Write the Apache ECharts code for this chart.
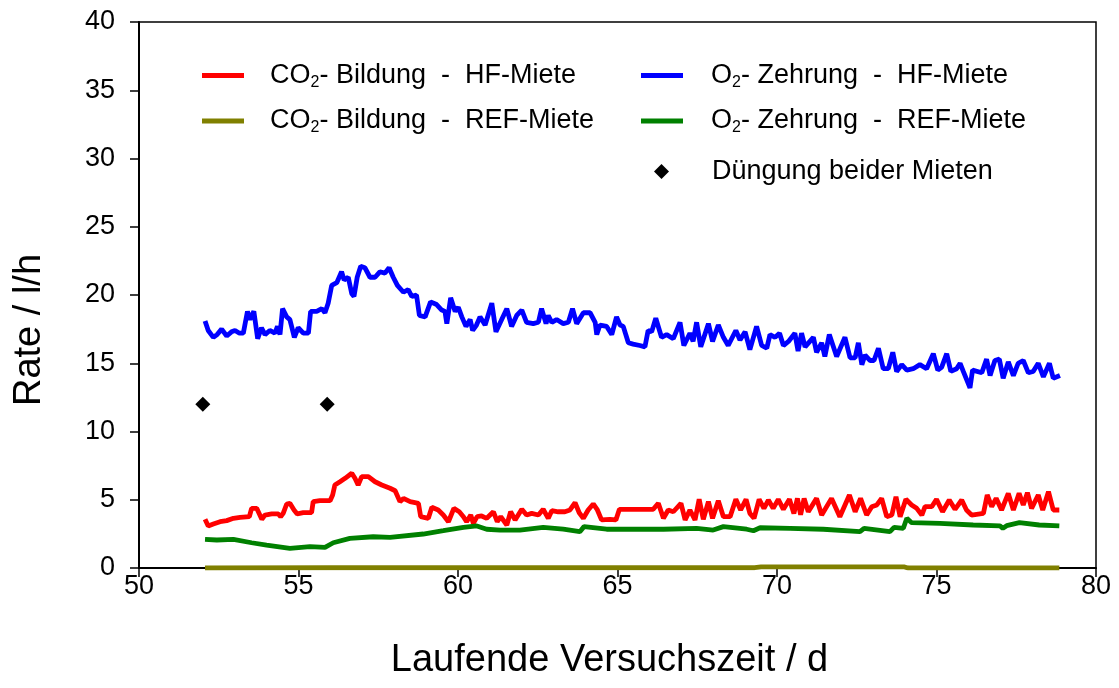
<!DOCTYPE html>
<html>
<head>
<meta charset="utf-8">
<script src="https://cdn.jsdelivr.net/npm/echarts@6/dist/echarts.min.js"></script>
<style>html,body{margin:0;padding:0;background:#fff}#c{width:1119px;height:688px}</style>
</head>
<body>
<div id="c"></div>
<script>
const seriesNames = ['CO2- Bildung  -  HF-Miete','O2- Zehrung  -  HF-Miete','CO2- Bildung  -  REF-Miete','O2- Zehrung  -  REF-Miete','Düngung beider Mieten'];
const xTicks = [50,55,60,65,70,75,80];
const yTicks = [0,5,10,15,20,25,30,35,40];

const co2HF = [[52.07,3.57],[52.17,3.08],[52.33,3.22],[52.54,3.39],[52.75,3.47],[52.96,3.64],[53.17,3.71],[53.46,3.76],[53.53,4.37],[53.69,4.37],[53.85,3.57],[53.95,3.88],[54.16,3.96],[54.37,3.96],[54.44,3.76],[54.52,4.0],[54.63,4.69],[54.73,4.74],[54.86,4.25],[54.96,3.96],[55.15,4.05],[55.41,4.05],[55.46,4.86],[55.67,4.93],[55.99,4.93],[56.07,5.35],[56.14,6.08],[56.3,6.32],[56.46,6.57],[56.67,6.94],[56.77,6.57],[56.87,6.08],[56.98,6.69],[57.19,6.69],[57.4,6.32],[57.61,6.08],[57.87,5.84],[58.03,5.66],[58.18,4.86],[58.29,5.1],[58.5,4.86],[58.76,4.74],[58.83,3.76],[59.07,3.64],[59.18,4.45],[59.38,4.25],[59.54,3.88],[59.7,3.39],[59.87,4.37],[60.04,4.12],[60.17,3.76],[60.27,3.39],[60.4,3.88],[60.48,3.27],[60.6,3.76],[60.74,3.81],[60.9,3.64],[61.11,4.12],[61.23,3.39],[61.34,3.76],[61.53,3.15],[61.65,4.12],[61.79,3.52],[62.0,4.3],[62.15,3.88],[62.31,4.0],[62.52,3.88],[62.67,4.3],[62.83,3.64],[62.94,4.2],[63.14,4.12],[63.35,4.12],[63.51,4.25],[63.67,4.78],[63.8,4.05],[63.93,3.64],[64.08,4.25],[64.24,4.69],[64.37,4.25],[64.5,3.52],[64.76,3.57],[64.95,3.52],[65.06,4.3],[65.6,4.3],[66.12,4.3],[66.28,4.74],[66.44,3.64],[66.59,4.25],[66.75,4.12],[66.99,4.74],[67.12,3.52],[67.27,4.25],[67.43,3.52],[67.56,5.03],[67.69,3.57],[67.85,4.86],[67.98,3.64],[68.16,4.93],[68.32,3.76],[68.53,3.76],[68.71,5.03],[68.86,4.25],[69.03,5.03],[69.15,4.0],[69.28,3.64],[69.44,5.03],[69.59,4.37],[69.73,4.98],[69.88,4.37],[70.04,5.03],[70.2,4.3],[70.39,5.03],[70.53,4.0],[70.64,5.1],[70.74,3.9],[70.85,5.1],[70.98,4.12],[71.24,5.1],[71.4,3.88],[71.71,5.1],[71.97,3.76],[72.27,5.35],[72.45,4.12],[72.62,5.1],[72.81,3.88],[72.97,4.49],[73.13,4.62],[73.28,5.1],[73.44,3.76],[73.6,3.88],[73.73,5.22],[73.86,3.76],[74.04,5.03],[74.22,4.62],[74.38,4.37],[74.54,3.88],[74.64,4.49],[74.85,4.49],[75.0,5.03],[75.19,4.12],[75.4,4.98],[75.58,4.3],[75.79,4.98],[75.94,4.25],[76.1,3.88],[76.47,4.0],[76.59,5.35],[76.73,4.49],[76.87,5.1],[77.04,4.25],[77.25,5.47],[77.41,4.25],[77.59,5.47],[77.72,4.62],[77.85,5.52],[77.98,4.37],[78.19,5.35],[78.33,4.25],[78.51,5.59],[78.66,4.25],[78.85,4.25]];

const o2HF = [[52.07,18.1],[52.17,17.4],[52.33,16.9],[52.45,17.1],[52.59,17.5],[52.75,17.0],[52.9,17.3],[53.01,17.4],[53.15,17.2],[53.27,17.2],[53.4,18.8],[53.48,18.2],[53.6,18.8],[53.72,16.8],[53.84,17.6],[53.95,17.1],[54.1,17.4],[54.26,17.2],[54.34,17.7],[54.42,17.1],[54.5,19.0],[54.63,18.4],[54.73,18.2],[54.87,16.9],[54.99,17.6],[55.15,17.2],[55.31,17.2],[55.38,18.8],[55.57,18.8],[55.73,19.0],[55.83,18.7],[55.93,19.4],[56.04,20.7],[56.2,20.9],[56.35,21.7],[56.43,21.1],[56.56,21.3],[56.67,20.1],[56.74,19.9],[56.84,21.3],[56.95,22.1],[57.08,22.0],[57.24,21.3],[57.4,21.3],[57.55,21.7],[57.71,21.6],[57.84,22.0],[57.97,21.3],[58.1,20.7],[58.29,20.2],[58.44,20.4],[58.55,19.9],[58.7,20.0],[58.79,18.5],[58.97,18.4],[59.14,19.5],[59.33,19.3],[59.49,18.9],[59.59,18.8],[59.65,17.9],[59.77,19.8],[59.91,18.8],[60.01,19.1],[60.12,18.4],[60.25,17.7],[60.38,18.2],[60.46,17.4],[60.58,17.8],[60.69,18.4],[60.85,17.8],[61.06,19.4],[61.19,17.3],[61.37,18.2],[61.53,19.0],[61.68,17.7],[61.84,18.5],[62.0,18.9],[62.15,18.0],[62.36,17.9],[62.52,18.0],[62.62,19.0],[62.76,17.9],[62.83,18.5],[62.94,18.0],[63.09,18.2],[63.3,17.9],[63.46,18.0],[63.59,19.0],[63.72,17.9],[63.93,18.7],[64.14,18.7],[64.3,18.0],[64.35,17.1],[64.45,17.8],[64.66,17.7],[64.82,17.1],[64.97,18.4],[65.08,17.8],[65.18,17.7],[65.34,16.5],[65.49,16.4],[65.7,16.3],[65.86,16.2],[65.96,17.4],[66.07,17.3],[66.2,18.3],[66.38,16.9],[66.54,17.1],[66.75,16.8],[66.96,18.0],[67.08,16.3],[67.27,17.2],[67.37,16.6],[67.48,18.0],[67.61,16.2],[67.85,17.9],[67.98,16.6],[68.16,17.8],[68.32,16.9],[68.47,16.3],[68.71,17.4],[68.84,16.7],[69.0,17.3],[69.15,16.0],[69.36,17.7],[69.52,16.3],[69.68,16.1],[69.78,17.1],[69.94,16.9],[70.08,17.2],[70.2,16.3],[70.36,16.6],[70.56,17.2],[70.66,15.9],[70.77,17.2],[70.88,16.2],[71.14,16.9],[71.24,15.8],[71.4,16.5],[71.5,15.5],[71.64,17.1],[71.87,15.5],[72.13,16.9],[72.29,15.4],[72.45,15.4],[72.55,16.5],[72.66,14.9],[72.76,15.6],[72.92,15.2],[73.04,15.2],[73.18,16.1],[73.33,14.6],[73.49,14.6],[73.63,15.8],[73.75,14.4],[73.91,14.9],[74.07,14.5],[74.27,14.6],[74.48,14.9],[74.69,14.6],[74.9,15.7],[75.04,14.5],[75.16,14.7],[75.32,15.7],[75.45,14.4],[75.63,14.6],[75.74,15.0],[75.84,14.4],[76.05,13.2],[76.13,14.5],[76.42,14.3],[76.57,15.3],[76.68,14.1],[76.83,15.2],[76.97,15.3],[77.09,13.9],[77.25,15.1],[77.41,14.1],[77.56,15.0],[77.72,15.2],[77.88,14.3],[78.03,14.4],[78.19,15.0],[78.35,14.0],[78.54,15.0],[78.66,13.9],[78.87,14.1]];

const co2REF = [[52.07,0.0],[56.0,0.02],[60.0,0.02],[65.0,0.02],[69.3,0.02],[69.5,0.08],[74.0,0.08],[74.1,0.0],[78.85,0.0]];

const o2REF = [[52.07,2.1],[52.44,2.05],[52.96,2.1],[53.53,1.85],[54.0,1.68],[54.73,1.44],[55.36,1.56],[55.83,1.51],[56.09,1.85],[56.61,2.17],[57.34,2.29],[57.87,2.25],[58.91,2.49],[59.54,2.73],[60.17,2.98],[60.59,3.08],[60.9,2.84],[61.32,2.78],[61.94,2.78],[62.67,2.98],[63.3,2.84],[63.82,2.66],[63.95,3.03],[64.66,2.84],[65.39,2.84],[66.44,2.84],[67.48,2.91],[68.0,2.78],[68.32,3.03],[69.05,2.84],[69.26,2.73],[69.47,2.95],[70.41,2.91],[71.45,2.84],[72.6,2.66],[72.73,2.91],[73.54,2.66],[73.67,2.98],[73.96,2.91],[74.07,3.64],[74.22,3.32],[75.11,3.27],[76.15,3.15],[76.99,3.08],[77.08,2.91],[77.2,3.1],[77.6,3.32],[78.22,3.15],[78.85,3.08]];

const duengung = [[52.0,12],[55.9,12]];

const FONT = "'Liberation Sans', Arial, sans-serif";
const colors = ['#ff0000','#0000ff','#808000','#008000','#000000'];

function fmt(n){
  const m = n.match(/^(C?O)2(.*)$/);
  return m ? '{n|' + m[1] + '}{s|2}{n|' + m[2] + '}' : '{n|' + n + '}';
}
const legendText = (pad) => ({
  padding: [0,0,0,pad],
  rich: {
    n: {fontSize: 27, fontFamily: FONT, color: '#000', lineHeight: 30},
    s: {fontSize: 16, fontFamily: FONT, color: '#000', lineHeight: 14, verticalAlign: 'bottom'}
  }
});

const chart = echarts.init(document.getElementById('c'), null, {renderer: 'canvas'});
const lineSeries = (name, data, color) => ({
  name, type: 'line', data, showSymbol: false, symbol: 'none',
  lineStyle: {color, width: 4.8}, itemStyle: {color}, animation: false
});

chart.setOption({
  animation: false,
  backgroundColor: '#fff',
  grid: {left: 139, top: 22, right: 23, bottom: 120, show: true, borderColor: '#000', borderWidth: 1.5, backgroundColor: 'transparent'},
  legend: [
    {data: [seriesNames[0], seriesNames[2]], orient: 'vertical', left: 197, top: 57, itemGap: 17,
     icon: 'rect', itemWidth: 42, itemHeight: 5, formatter: fmt, textStyle: legendText(21), selectedMode: false},
    {data: [seriesNames[1], seriesNames[3]], orient: 'vertical', left: 636, top: 57, itemGap: 17,
     icon: 'rect', itemWidth: 42, itemHeight: 5, formatter: fmt, textStyle: legendText(23), selectedMode: false},
    {data: [seriesNames[4]], orient: 'vertical', left: 649, top: 153,
     icon: 'diamond', itemWidth: 15, itemHeight: 15, formatter: fmt, textStyle: legendText(38), selectedMode: false,
     itemStyle: {opacity: 1}}
  ],
  xAxis: {
    type: 'value', min: xTicks[0], max: xTicks[xTicks.length-1], interval: 5,
    name: 'Laufende Versuchszeit / d', nameLocation: 'middle', nameGap: 74,
    nameTextStyle: {fontSize: 38, fontFamily: FONT, color: '#000', padding: [0, 16, 0, 0]},
    axisLine: {show: true, lineStyle: {color: '#000', width: 2}},
    axisTick: {show: true, inside: false, length: 9, lineStyle: {color: '#000', width: 1.5}},
    axisLabel: {fontSize: 27, fontFamily: FONT, color: '#000', margin: 5},
    splitLine: {show: false}
  },
  yAxis: {
    type: 'value', min: yTicks[0], max: yTicks[yTicks.length-1], interval: 5,
    name: 'Rate / l/h', nameLocation: 'middle', nameGap: 90,
    nameTextStyle: {fontSize: 38, fontFamily: FONT, color: '#000', padding: [0, 70, 0, 0]},
    axisLine: {show: true, lineStyle: {color: '#000', width: 2}},
    axisTick: {show: true, inside: false, length: 9, lineStyle: {color: '#000', width: 1.5}},
    axisLabel: {fontSize: 27, fontFamily: FONT, color: '#000', margin: 24},
    splitLine: {show: false}
  },
  series: [
    lineSeries(seriesNames[1], o2HF, colors[1]),
    lineSeries(seriesNames[0], co2HF, colors[0]),
    lineSeries(seriesNames[3], o2REF, colors[3]),
    lineSeries(seriesNames[2], co2REF, colors[2]),
    {name: seriesNames[4], type: 'scatter', data: duengung, symbol: 'diamond', symbolSize: 15,
     itemStyle: {color: colors[4], opacity: 1}, animation: false}
  ]
});
</script>
</body>
</html>
